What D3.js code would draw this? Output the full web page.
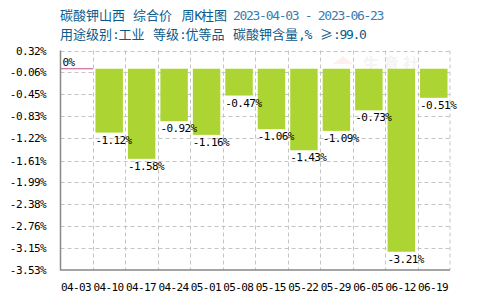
<!DOCTYPE html>
<html>
<head>
<meta charset="utf-8">
<script src="https://cdn.jsdelivr.net/npm/d3@7"></script>
<style>
  body { margin: 0; background: #fff; }
  svg { display: block; }
  text { white-space: pre; }
</style>
</head>
<body>
<div id="chart"></div>
<script>
// weekly change data (%)
var weeks = ["04-03", "04-10", "04-17", "04-24", "05-01", "05-08", "05-15", "05-22", "05-29", "06-05", "06-12", "06-19"];
var changes = [0, -1.12, -1.58, -0.92, -1.16, -0.47, -1.06, -1.43, -1.09, -0.73, -3.21, -0.51];
var yTicks = [0.32, -0.06, -0.45, -0.83, -1.22, -1.61, -1.99, -2.38, -2.76, -3.15, -3.53];

var W = 500, H = 300;
var plotL = 60.5, plotR = 450, plotT = 50.5, plotB = 270;
var mono = "'DejaVu Sans Mono', 'Liberation Mono', monospace";
var cjk = "'Noto Sans CJK SC', sans-serif";

var svg = d3.select("#chart").append("svg")
  .attr("width", W)
  .attr("height", H);

// <---- header: each segment starts at its own x ---->
function headerSeg(x0, y, parts) {
  var t = svg.append("text").attr("x", x0).attr("y", y).attr("font-size", 13);
  parts.forEach(function(p) {
    t.append("tspan")
      .text(p[0])
      .attr("font-family", p[1] ? mono : cjk)
      .attr("letter-spacing", p[1] ? -1.3 : 0)
      .attr("fill", p[2] || "#0b5a8c");
  });
}
headerSeg(60, 20, [["碳酸钾山西"]]);
headerSeg(133, 20, [["综合价"]]);
headerSeg(181.5, 20, [["周"], ["K", true], ["柱图"]]);
headerSeg(233, 20, [["2023-04-03 - 2023-06-23", true, "#3a7cae"]]);
headerSeg(60, 39, [["用途级别"], [":", true], ["工业"]]);
headerSeg(153, 39, [["等级"], [":", true], ["优等品"]]);
headerSeg(233, 39, [["碳酸钾含量"], [",%", true]]);
headerSeg(320, 39, [["≥"], [":99.0", true]]);

// faint watermark (drawn under grid and bars)
svg.append("path")
  .attr("d", "M333,64 L343,56 L353,64 Z")
  .attr("fill", "#fcf0f0");
svg.append("text")
  .attr("x", 363).attr("y", 70)
  .attr("font-family", cjk).attr("font-size", 16).attr("font-weight", "bold")
  .attr("fill", "#f6f3f3").attr("letter-spacing", 4)
  .text("生意社");

var x = d3.scaleBand().domain(weeks).range([plotL, plotR]).padding(0);
var y = d3.scaleLinear().domain([-3.53, 0.32]).range([plotB, plotT]);

// <---- grid ---->
var grid = svg.append("g")
  .attr("stroke", "#c4c4c4")
  .attr("stroke-dasharray", "4,3")
  .attr("fill", "none");
grid.selectAll("line.h")
  .data(yTicks.slice(0, -1))
  .enter().append("line")
  .attr("x1", plotL).attr("x2", plotR)
  .attr("y1", function(d) { return Math.round(y(d)) + 0.5; })
  .attr("y2", function(d) { return Math.round(y(d)) + 0.5; });
grid.selectAll("line.v")
  .data(weeks.slice(1).concat(["end"]))
  .enter().append("line")
  .attr("x1", function(d) { return d === "end" ? plotR : Math.round(x(d)) + 0.5; })
  .attr("x2", function(d) { return d === "end" ? plotR : Math.round(x(d)) + 0.5; })
  .attr("y1", plotT).attr("y2", plotB);

// <---- bars ---->
var pad = 2.5;
svg.selectAll("rect.bar")
  .data(changes.map(function(v, i) { return { w: weeks[i], v: v }; }).filter(function(d) { return d.v < 0; }))
  .enter().append("rect")
  .attr("x", function(d) { return x(d.w) + pad; })
  .attr("width", x.bandwidth() - 2 * pad)
  .attr("y", y(0))
  .attr("height", function(d) { return y(d.v) - y(0); })
  .attr("fill", "#acd533");

// zero-value week: line at 0
changes.forEach(function(v, i) {
  if (v === 0) {
    svg.append("line")
      .attr("x1", x(weeks[i])).attr("x2", x(weeks[i]) + x.bandwidth())
      .attr("y1", y(0)).attr("y2", y(0))
      .attr("stroke", "#c0508c").attr("stroke-width", 1.2);
  }
});

// value labels
svg.selectAll("text.val")
  .data(changes)
  .enter().append("text")
  .attr("font-family", mono)
  .attr("font-size", 11)
  .attr("letter-spacing", -0.6)
  .attr("fill", "#000")
  .attr("x", function(d, i) { return d === 0 ? x(weeks[i]) + 2 : x(weeks[i]) + pad; })
  .attr("y", function(d) { return d === 0 ? y(0) - 3 : y(d) + 11; })
  .text(function(d) { return d === 0 ? "0%" : d.toFixed(2) + "%"; });

// <---- axes ---->
svg.append("path")
  .attr("d", "M" + plotL + "," + plotT + "V" + plotB + "H" + plotR)
  .attr("stroke", "#888")
  .attr("stroke-width", 1.5)
  .attr("fill", "none");

svg.selectAll("text.ytick")
  .data(yTicks)
  .enter().append("text")
  .attr("font-family", mono)
  .attr("font-size", 11)
  .attr("letter-spacing", -0.6)
  .attr("text-anchor", "end")
  .attr("x", 46)
  .attr("y", function(d) { return y(d) + 4; })
  .text(function(d) { return d.toFixed(2) + "%"; });

svg.selectAll("text.xtick")
  .data(weeks)
  .enter().append("text")
  .attr("font-family", mono)
  .attr("font-size", 11)
  .attr("letter-spacing", -0.6)
  .attr("x", function(d) { return x(d) + 0.5; })
  .attr("y", 291)
  .text(function(d) { return d; });
</script>
</body>
</html>
